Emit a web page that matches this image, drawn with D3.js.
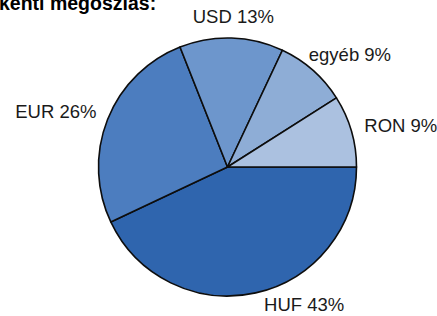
<!DOCTYPE html>
<html>
<head>
<meta charset="utf-8">
<script src="https://cdn.jsdelivr.net/npm/d3@7"></script>
<style>
  body { margin: 0; background: #fff; }
  svg { display: block; }
</style>
</head>
<body>
<div id="chart"></div>
<script>
// Slices, clockwise from 3 o'clock
const categories = ['HUF', 'EUR', 'USD', 'egyéb', 'RON'];
const shares = [43, 26, 13, 9, 9];
const colors = ['#2f65ae', '#4c7dbf', '#6d96cc', '#8eadd6', '#abc1e0'];
const title = 'kénti megoszlás:';

const W = 437, H = 316;
const cx = 227.5, cy = 167, r = 129;

const svg = d3.select('#chart').append('svg')
  .attr('width', W)
  .attr('height', H);

// Title, cut off on the left and top like the source
svg.append('text')
  .attr('x', -1)
  .attr('y', 10)
  .text(title)
  .style('font', 'bold 19.5px "Liberation Sans", Arial, sans-serif')
  .attr('fill', '#000');

const data = categories.map((c, i) => ({ name: c, value: shares[i], color: colors[i] }));

// Pie starts at 3 o'clock and goes clockwise
const pie = d3.pie()
  .sort(null)
  .value(d => d.value)
  .startAngle(Math.PI / 2)
  .endAngle(Math.PI / 2 + 2 * Math.PI);

const arc = d3.arc().innerRadius(0).outerRadius(r);

const g = svg.append('g')
  .attr('transform', `translate(${cx}, ${cy})`);

const arcs = pie(data);

g.selectAll('path.slice')
  .data(arcs)
  .join('path')
    .attr('class', 'slice')
    .attr('d', arc)
    .attr('fill', d => d.data.color)
    .attr('stroke', '#0d0d0d')
    .attr('stroke-width', 1.6)
    .attr('stroke-linejoin', 'round');

// Labels: box sits just outside the rim, pushed outwards along the mid angle
const labelR = r + 15;
const fontSize = 18.5;
const labels = g.selectAll('text.lbl')
  .data(arcs)
  .join('text')
    .attr('class', 'lbl')
    .text(d => `${d.data.name} ${d.data.value}%`)
    .style('font', `${fontSize}px "Liberation Sans", Arial, sans-serif`)
    .attr('fill', '#1a1a1a')
    .attr('text-anchor', 'middle');

labels.each(function(d) {
  const w = this.getComputedTextLength();
  const h = fontSize * 0.75;
  let a = (d.startAngle + d.endAngle) / 2;
  const place = ang => {
    const px = labelR * Math.sin(ang), py = -labelR * Math.cos(ang);
    return [px + Math.sin(ang) * w / 2, py - Math.cos(ang) * h / 2];
  };
  let [x, y] = place(a);
  // keep the box inside the drawing: swing it towards the horizontal
  let step = 0;
  while (cy + y + h / 2 > H - 4 && step < 90) {
    a += Math.sin(a) > 0 ? -Math.PI / 180 : Math.PI / 180;
    [x, y] = place(a);
    step++;
  }
  d3.select(this)
    .attr('x', x)
    .attr('y', y + h / 2);
});
</script>
</body>
</html>
